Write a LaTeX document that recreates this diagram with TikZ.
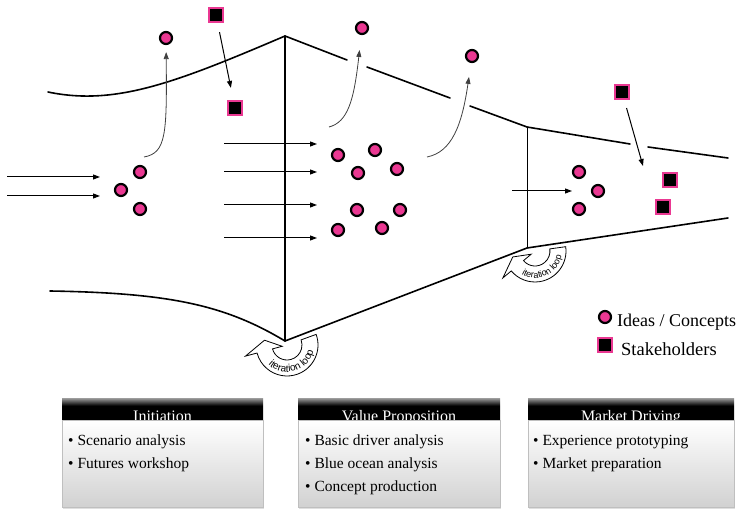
\documentclass[tikz,border=0pt]{standalone}
\usepackage{fontspec}
\setmainfont{Liberation Serif}
\setsansfont{Liberation Sans}
\usetikzlibrary{arrows.meta,decorations.text,shadows}

\definecolor{ideapink}{RGB}{234,56,146}
\pgfdeclareverticalshading{headband}{100bp}{color(0bp)=(black); color(25bp)=(black); color(58bp)=(black); color(75bp)=(black!40); color(100bp)=(black!40)}

\begin{document}
\begin{tikzpicture}[x=1pt, y=1pt,
    funnel/.style={line width=1.6pt, line cap=round},
    idea/.style={circle, draw, line width=2.2pt, fill=ideapink, minimum size=12pt, inner sep=0pt},
    stake/.style={rectangle, draw=ideapink, line width=2.6pt, fill=black, minimum size=14pt, inner sep=0pt},
    flow/.style={line width=1pt, -{Triangle[length=7pt,width=5pt]}},
    rise/.style={line width=0.8pt, black!75, -{Triangle[length=7pt,width=5pt]}},
    iterband/.style={draw, line width=0.8pt, fill=white},
    itertext/.style={decorate, decoration={text along path, text align=center, text={|\fontsize{#1}{#1}\selectfont\sffamily|iteration loop}}},
    phasehead/.style={rectangle, shading=headband, minimum height=22pt, inner sep=0pt, anchor=north west},
    phasebody/.style={rectangle, top color=white, bottom color=black!18, draw=black!25, line width=0.6pt, minimum height=87pt, inner sep=0pt, anchor=north west, drop shadow={opacity=0.25, shadow xshift=1pt, shadow yshift=-2pt}},
    phasetitle/.style={text=white, font=\fontsize{16}{16}\selectfont, inner sep=0pt, anchor=base},
    phaselist/.style={align=left, font=\fontsize{15.5}{23}\selectfont, inner sep=0pt, anchor=north west},
    keytext/.style={font=\fontsize{18}{18}\selectfont, inner sep=0pt, anchor=west}]

\useasboundingbox (0,0) rectangle (740,-510);

% iteration loops under the funnel corners
\begin{scope}[shift={(287,-345)}]
  \draw[iterband] (20:31) arc[start angle=20, end angle=-165, radius=31] -- (-165:43) -- (168:23) -- (-165:5) -- (-165:15) arc[start angle=-165, end angle=20, radius=15] -- cycle;
  \path[itertext=10] (-160:27) arc[start angle=-160, end angle=14, radius=27];
\end{scope}
\begin{scope}[shift={(535,-251)}]
  \draw[iterband] (8:31) arc[start angle=8, end angle=-140, radius=31] -- (-140:42) -- (-165:23) -- (-140:5) -- (-140:15) arc[start angle=-140, end angle=8, radius=15] -- cycle;
  \path[itertext=9] (-136:27) arc[start angle=-136, end angle=6, radius=27];
\end{scope}

% funnel outline
\draw[funnel] (48,-92) .. controls (115,-106) and (175,-83) .. (285,-36) -- (347,-60);
\draw[funnel] (367,-67) -- (450,-98);
\draw[funnel] (470,-106) -- (527,-127) -- (630,-144);
\draw[funnel] (648,-147) -- (728,-158);
\draw[funnel] (50,-291) .. controls (170,-293) and (225,-305) .. (285,-341) -- (527,-248) -- (728,-218);
\draw[funnel] (285,-36) -- (285,-341);
\draw[funnel, line width=1pt] (527,-127) -- (527,-248);

% ideas
\node[idea] (a0) at (166,-38) {};
\node[idea] (a1) at (140,-172) {};
\node[idea] (a2) at (121,-190) {};
\node[idea] (a3) at (140,-209) {};
\node[idea] (b0) at (362,-28) {};
\node[idea] (b1) at (338,-155) {};
\node[idea] (b2) at (375,-150) {};
\node[idea] (b3) at (358,-173) {};
\node[idea] (b4) at (397,-169) {};
\node[idea] (b5) at (357,-210) {};
\node[idea] (b6) at (400,-210) {};
\node[idea] (b7) at (338,-230) {};
\node[idea] (b8) at (382,-228) {};
\node[idea] (c0) at (472,-56) {};
\node[idea] (d1) at (579,-172) {};
\node[idea] (d2) at (598,-191) {};
\node[idea] (d3) at (579,-209) {};

% stakeholders
\node[stake] (s1) at (216,-15) {};
\node[stake] (s2) at (235,-108) {};
\node[stake] (s3) at (622,-92) {};
\node[stake] (s4) at (670,-180) {};
\node[stake] (s5) at (663,-207) {};

% incoming flows
\coordinate (in1) at (7,-177);
\coordinate (in1e) at (100,-177);
\coordinate (in2) at (7,-196);
\coordinate (in2e) at (100,-196);
\draw[flow] (in1) -- (in1e);
\draw[flow] (in2) -- (in2e);

\coordinate (mid1) at (224,-144);
\coordinate (mid1e) at (317,-144);
\coordinate (mid2) at (224,-172);
\coordinate (mid2e) at (317,-172);
\coordinate (mid3) at (224,-205);
\coordinate (mid3e) at (317,-205);
\coordinate (mid4) at (224,-238);
\coordinate (mid4e) at (317,-238);
\draw[flow] (mid1) -- (mid1e);
\draw[flow] (mid2) -- (mid2e);
\draw[flow] (mid3) -- (mid3e);
\draw[flow] (mid4) -- (mid4e);

\coordinate (last) at (512,-191);
\coordinate (laste) at (572,-191);
\draw[flow] (last) -- (laste);

% ideas leaving the funnel
\coordinate (a0foot) at (144,-157);
\coordinate (b0foot) at (329,-127);
\coordinate (c0foot) at (427,-157);
\draw[rise, shorten >=7pt] (a0foot) .. controls (166,-153) and (167,-135) .. (a0);
\draw[rise, shorten >=15pt] (b0foot) .. controls (348,-122) and (354,-100) .. (b0);
\draw[rise, shorten >=14pt] (c0foot) .. controls (452,-152) and (462,-125) .. (c0);

% stakeholders coming in
\coordinate (s3tip) at (643,-166);
\draw[flow, shorten <=9pt, shorten >=12pt] (s1) -- (s2);
\draw[flow, shorten <=8pt] (s3) -- (s3tip);

% legend
\node[idea] (keyidea) at (605,-317) {};
\node[keytext] (keyideatext) at (617,-322) {Ideas / Concepts};
\node[stake] (keystake) at (605,-345) {};
\node[keytext, font=\fontsize{18.5}{18.5}\selectfont] (keystaketext) at (621,-349) {Stakeholders};

% phase boxes
\node[phasehead, minimum width=201pt] (inithead) at (62,-398) {};
\node[phasetitle] (inittitle) at (162.5,-421.5) {Initiation};
\node[phasebody, minimum width=201pt] (initbody) at (62,-420) {};
\node[phaselist] (initlist) at (68,-435) {\textbullet\ Scenario analysis\\ \textbullet\ Futures workshop};

\node[phasehead, minimum width=202pt] (valuehead) at (298,-398) {};
\node[phasetitle] (valuetitle) at (399,-421.5) {Value Proposition};
\node[phasebody, minimum width=202pt] (valuebody) at (298,-420) {};
\node[phaselist] (valuelist) at (305,-435) {\textbullet\ Basic driver analysis\\ \textbullet\ Blue ocean analysis\\ \textbullet\ Concept production};

\node[phasehead, minimum width=206pt] (markethead) at (528,-398) {};
\node[phasetitle] (markettitle) at (631,-421.5) {Market Driving};
\node[phasebody, minimum width=206pt] (marketbody) at (528,-420) {};
\node[phaselist] (marketlist) at (533,-435) {\textbullet\ Experience prototyping\\ \textbullet\ Market preparation};
\end{tikzpicture}
\end{document}
